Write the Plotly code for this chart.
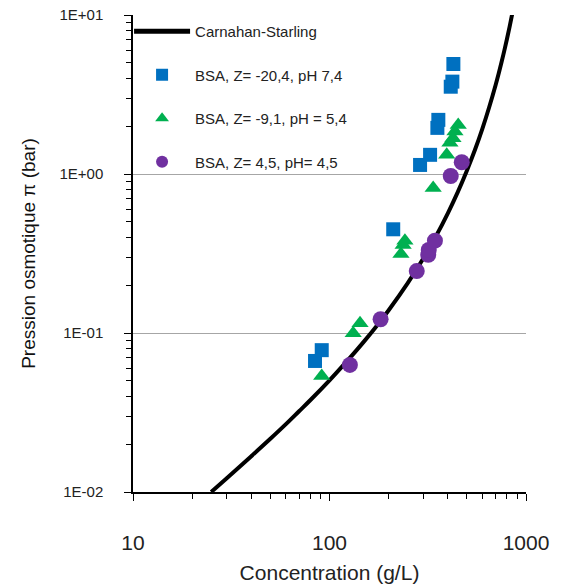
import plotly.graph_objects as go

# Carnahan-Starling curve
cs_conc = [25, 30, 40, 50, 60, 70, 80, 100, 125, 150, 175, 200, 250, 300, 350, 400, 450,
           500, 550, 600, 650, 700, 725, 750, 775, 800, 825, 850]
cs_pi = [0.0100, 0.0122, 0.0168, 0.0216, 0.0267, 0.0322, 0.0379, 0.0504, 0.0682, 0.0886,
         0.112, 0.139, 0.206, 0.294, 0.411, 0.566, 0.772, 1.05, 1.42, 1.93, 2.64, 3.62,
         4.26, 5.02, 5.95, 7.06, 8.42, 10.1]

# BSA, Z = -20,4, pH 7,4
blue_conc = [84.4, 91.3, 211, 289, 325, 354, 358, 414, 422, 427]
blue_pi = [0.0667, 0.078, 0.449, 1.14, 1.32, 1.95, 2.19, 3.54, 3.81, 4.92]

# BSA, Z = -9,1, pH = 5,4
green_conc = [91.3, 132, 143, 231, 237, 242, 337, 395, 410, 425, 435, 452]
green_pi = [0.0537, 0.0996, 0.115, 0.314, 0.358, 0.38, 0.817, 1.32, 1.57, 1.68, 1.85, 2.03]

# BSA, Z = 4,5, pH = 4,5
purple_conc = [127, 182, 278, 318, 320, 344, 414, 471]
purple_pi = [0.063, 0.122, 0.245, 0.31, 0.333, 0.381, 0.971, 1.185]

y_tickvals = [0.01, 0.1, 1, 10]
y_ticktext = ["1E-02", "1E-01", "1E+00", "1E+01"]
x_tickvals = [10, 100, 1000]
x_ticktext = ["10", "100", "1000"]

FONT = "Liberation Sans, Arial, sans-serif"

fig = go.Figure()
fig.add_trace(go.Scatter(
    x=cs_conc, y=cs_pi, mode="lines", name="Carnahan-Starling",
    line=dict(color="black", width=4, shape="spline"), legendgroup="a"))
fig.add_trace(go.Scatter(
    x=blue_conc, y=blue_pi, mode="markers", name="BSA, Z= -20,4, pH 7,4",
    marker=dict(symbol="square", size=14, color="#0070C0", line=dict(width=0)), legendgroup="b"))
fig.add_trace(go.Scatter(
    x=green_conc, y=green_pi, mode="markers", name="BSA, Z= -9,1, pH = 5,4",
    marker=dict(symbol="triangle-up", size=15, color="#00B050", line=dict(width=0)), legendgroup="c"))
fig.add_trace(go.Scatter(
    x=purple_conc, y=purple_pi, mode="markers", name="BSA, Z= 4,5, pH= 4,5",
    marker=dict(symbol="circle", size=16, color="#7030A0", line=dict(width=0)), legendgroup="d"))

fig.update_layout(
    width=562, height=588,
    margin=dict(l=133, r=36, t=15, b=96),
    paper_bgcolor="white", plot_bgcolor="white",
    font=dict(family=FONT, color="#222222"),
    showlegend=True,
    legend=dict(
        x=-0.01, y=1.0, xanchor="left", yanchor="top",
        bgcolor="rgba(0,0,0,0)", font=dict(size=15, family=FONT, color="#222222"),
        tracegroupgap=21, itemwidth=56, itemsizing="constant",
    ),
    xaxis=dict(
        type="log", range=[1, 3], automargin=False,
        tickmode="array", tickvals=x_tickvals, ticktext=x_ticktext,
        tickfont=dict(size=21, family=FONT, color="#222222"),
        ticks="outside", ticklen=7, tickcolor="black", tickwidth=1,
        ticklabelstandoff=24,
        minor=dict(ticks="outside", ticklen=5, tickcolor="black", dtick="D1", showgrid=False),
        showline=True, linecolor="black", linewidth=1.5,
        showgrid=False, zeroline=False,
        title=dict(text="Concentration (g/L)", font=dict(size=21, family=FONT, color="#222222"), standoff=12),
    ),
    yaxis=dict(
        type="log", range=[-2, 1], automargin=False,
        tickmode="array", tickvals=y_tickvals, ticktext=y_ticktext,
        tickfont=dict(size=15, family=FONT, color="#222222"),
        ticks="outside", ticklen=7, tickcolor="black", tickwidth=1,
        ticklabelstandoff=18,
        minor=dict(ticks="outside", ticklen=5, tickcolor="black", dtick="D1", showgrid=False),
        showline=True, linecolor="black", linewidth=1.5,
        showgrid=True, gridcolor="#A6A6A6", gridwidth=1.3, zeroline=False,
        title=dict(text="Pression osmotique π (bar)", font=dict(size=19, family=FONT, color="#111111"), standoff=19),
    ),
)

fig.write_html("out.html", config={"displayModeBar": False},
               post_script="document.body.style.margin='0';")
